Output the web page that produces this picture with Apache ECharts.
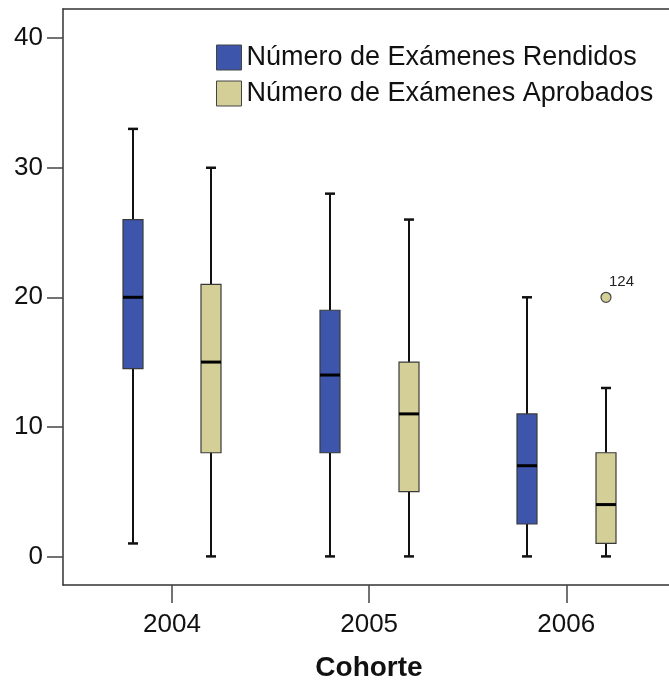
<!DOCTYPE html>
<html>
<head>
<meta charset="utf-8">
<script src="https://cdn.jsdelivr.net/npm/echarts@6/dist/echarts.min.js"></script>
<style>
html,body{margin:0;padding:0;background:#fff;}
#chart{width:669px;height:687px;}
</style>
</head>
<body>
<div id="chart"></div>
<script>
// ---- data ----
const categories = ['2004', '2005', '2006'];
const seriesNames = ['Número de Exámenes Rendidos', 'Número de Exámenes Aprobados'];
// [min, Q1, median, Q3, max]
const rendidos = [
  [1, 14.5, 20, 26, 33],
  [0, 8, 14, 19, 28],
  [0, 2.5, 7, 11, 20]
];
const aprobados = [
  [0, 8, 15, 21, 30],
  [0, 5, 11, 15, 26],
  [0, 1, 4, 8, 13]
];
// outliers of "Aprobados": [category index, value, case id]
const aprobadosOutliers = [[2, 20, '124']];
const yTicks = [0, 10, 20, 30, 40];

// ---- style ----
const FONT = '"Liberation Sans", Arial, sans-serif';
const colors = ['#3D56AC', '#D3CF97'];
const offsets = [-0.2, 0.2];
const BOX_HALF = 10;
const CAP_HALF = 5;

function boxRender(seriesIdx) {
  return function (params, api) {
    const cat = api.value(0);
    const x = cat + offsets[seriesIdx];
    const pMin = api.coord([x, api.value(1)]);
    const pQ1 = api.coord([x, api.value(2)]);
    const pMed = api.coord([x, api.value(3)]);
    const pQ3 = api.coord([x, api.value(4)]);
    const pMax = api.coord([x, api.value(5)]);
    const cx = Math.round(pMed[0]);
    const lineStyle = {stroke: '#111', lineWidth: 2};
    return {
      type: 'group',
      children: [
        {type: 'line', shape: {x1: cx, y1: pQ3[1], x2: cx, y2: pMax[1]}, style: lineStyle},
        {type: 'line', shape: {x1: cx, y1: pQ1[1], x2: cx, y2: pMin[1]}, style: lineStyle},
        {type: 'line', shape: {x1: cx - CAP_HALF, y1: pMax[1], x2: cx + CAP_HALF, y2: pMax[1]}, style: {stroke: '#111', lineWidth: 2.5}},
        {type: 'line', shape: {x1: cx - CAP_HALF, y1: pMin[1], x2: cx + CAP_HALF, y2: pMin[1]}, style: {stroke: '#111', lineWidth: 2.5}},
        {type: 'rect', shape: {x: cx - BOX_HALF, y: pQ3[1], width: 2 * BOX_HALF, height: pQ1[1] - pQ3[1]},
          style: {fill: colors[seriesIdx], stroke: '#3a3a3a', lineWidth: 1.2}},
        {type: 'line', shape: {x1: cx - BOX_HALF, y1: pMed[1], x2: cx + BOX_HALF, y2: pMed[1]}, style: {stroke: '#000', lineWidth: 3}}
      ]
    };
  };
}

function outlierRender(seriesIdx) {
  return function (params, api) {
    const x = api.value(0) + offsets[seriesIdx];
    const p = api.coord([x, api.value(1)]);
    const cx = Math.round(p[0]);
    return {
      type: 'group',
      children: [
        {type: 'circle', shape: {cx: cx, cy: p[1], r: 5}, style: {fill: colors[seriesIdx], stroke: '#444', lineWidth: 1.2}},
        {type: 'text', x: cx + 3, y: p[1] - 8,
          style: {text: aprobadosOutliers[params.dataIndex][2], fill: '#222', font: '15px ' + FONT, textAlign: 'left', textVerticalAlign: 'bottom'}}
      ]
    };
  };
}

const chart = echarts.init(document.getElementById('chart'), null, {renderer: 'canvas'});
chart.setOption({
  animation: false,
  backgroundColor: '#fff',
  grid: {left: 63, right: 0, top: 9, bottom: 100, containLabel: false},
  legend: {
    orient: 'vertical',
    left: 211, top: 39,
    itemWidth: 25, itemHeight: 25, itemGap: 9,
    icon: 'rect',
    textStyle: {fontFamily: FONT, fontSize: 27, color: '#111', lineHeight: 25},
    data: [
      {name: seriesNames[0], itemStyle: {color: colors[0], borderColor: '#444', borderWidth: 1}},
      {name: seriesNames[1], itemStyle: {color: colors[1], borderColor: '#444', borderWidth: 1}}
    ]
  },
  xAxis: [{
    type: 'value',
    min: -0.553, max: 2.521,
    splitLine: {show: false},
    axisLine: {show: true, onZero: false, lineStyle: {color: '#333', width: 1.5}},
    axisTick: {show: true, length: 18, customValues: [0, 1, 2], lineStyle: {color: '#444', width: 1.5}},
    axisLabel: {
      customValues: [0, 1, 2],
      formatter: v => categories[Math.round(v)],
      fontFamily: FONT, fontSize: 26, color: '#111', margin: 27
    },
    name: 'Cohorte',
    nameLocation: 'middle',
    nameGap: 69,
    nameTextStyle: {fontFamily: FONT, fontSize: 28, fontWeight: 'bold', color: '#111', padding: [0, 0, 0, 6]}
  }, {
    type: 'value', position: 'top',
    min: -0.553, max: 2.521,
    splitLine: {show: false},
    axisLine: {show: true, onZero: false, lineStyle: {color: '#333', width: 1.5}},
    axisTick: {show: false}, axisLabel: {show: false}
  }],
  yAxis: {
    type: 'value',
    min: -2.208, max: 42.254,
    splitLine: {show: false},
    axisLine: {show: true, onZero: false, lineStyle: {color: '#333', width: 1.5}},
    axisTick: {show: true, length: 16, customValues: yTicks, lineStyle: {color: '#444', width: 1.5}},
    axisLabel: {customValues: yTicks, fontFamily: FONT, fontSize: 26, color: '#111', margin: 20}
  },
  series: [
    {name: seriesNames[0], type: 'custom', renderItem: boxRender(0), itemStyle: {color: colors[0]},
      data: rendidos.map((r, i) => [i].concat(r)), encode: {x: 0, y: [1, 2, 3, 4, 5]}},
    {name: seriesNames[1], type: 'custom', renderItem: boxRender(1), itemStyle: {color: colors[1]},
      data: aprobados.map((r, i) => [i].concat(r)), encode: {x: 0, y: [1, 2, 3, 4, 5]}},
    {name: seriesNames[1], type: 'custom', renderItem: outlierRender(1), itemStyle: {color: colors[1]},
      data: aprobadosOutliers.map(o => [o[0], o[1]]), encode: {x: 0, y: 1}}
  ]
});
</script>
</body>
</html>
